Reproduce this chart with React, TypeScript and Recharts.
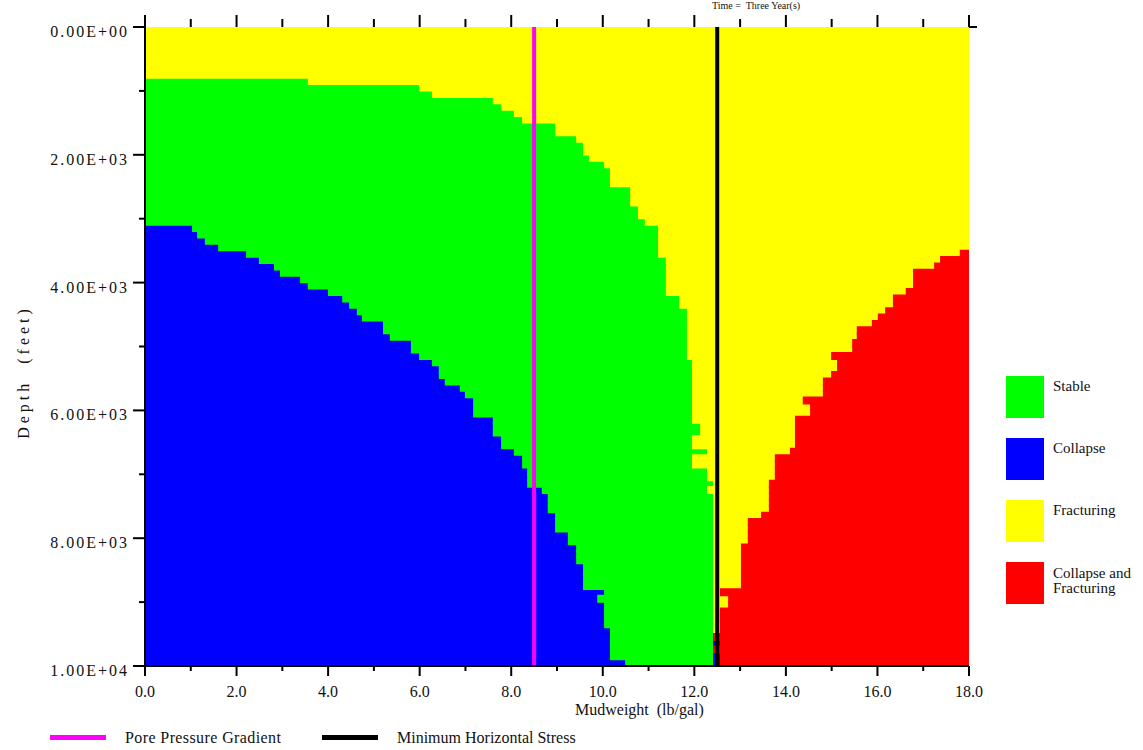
import { ComposedChart, Bar, XAxis, YAxis, ReferenceLine } from 'recharts'

// depth slices (ft), centre of each 100 ft row
const depths = [
  50, 150, 250, 350, 450, 550, 650, 750, 850, 950,
  1050, 1150, 1250, 1350, 1450, 1550, 1650, 1750, 1850, 1950,
  2050, 2150, 2250, 2350, 2450, 2550, 2650, 2750, 2850, 2950,
  3050, 3150, 3250, 3350, 3450, 3550, 3650, 3750, 3850, 3950,
  4050, 4150, 4250, 4350, 4450, 4550, 4650, 4750, 4850, 4950,
  5050, 5150, 5250, 5350, 5450, 5550, 5650, 5750, 5850, 5950,
  6050, 6150, 6250, 6350, 6450, 6550, 6650, 6750, 6850, 6950,
  7050, 7150, 7250, 7350, 7450, 7550, 7650, 7750, 7850, 7950,
  8050, 8150, 8250, 8350, 8450, 8550, 8650, 8750, 8850, 8950,
  9050, 9150, 9250, 9350, 9450, 9550, 9650, 9750, 9850, 9950,
]

// mudweight (lb/gal) below which the hole collapses
const collapseLimit = [
  0, 0, 0, 0, 0, 0, 0, 0, 0, 0,
  0, 0, 0, 0, 0, 0, 0, 0, 0, 0,
  0, 0, 0, 0, 0, 0, 0, 0, 0, 0,
  0, 1.05, 1.16, 1.33, 1.62, 2.23, 2.51, 2.84, 2.97, 3.41,
  3.58, 4.02, 4.33, 4.48, 4.65, 4.76, 5.22, 5.22, 5.37, 5.83,
  5.83, 6.01, 6.29, 6.44, 6.44, 6.57, 6.9, 7.01, 7.19, 7.19,
  7.19, 7.62, 7.62, 7.62, 7.8, 7.8, 8.08, 8.26, 8.26, 8.37,
  8.37, 8.37, 8.69, 8.82, 8.82, 8.82, 8.98, 8.98, 8.98, 9.26,
  9.26, 9.44, 9.44, 9.44, 9.59, 9.59, 9.59, 9.59, 10.05, 9.9,
  10.05, 10.05, 10.05, 10.05, 10.18, 10.18, 10.18, 10.18, 10.18, 10.51,
]

// mudweight where the stable window ends (0 = no stable window)
const stableLimit = [
  0, 0, 0, 0, 0, 0, 0, 0, 3.58, 6.01,
  6.29, 7.62, 7.8, 8.08, 8.26, 8.98, 8.98, 9.44, 9.59, 9.59,
  9.72, 10.05, 10.18, 10.18, 10.18, 10.62, 10.62, 10.62, 10.79, 10.79,
  10.94, 11.23, 11.23, 11.23, 11.23, 11.23, 11.4, 11.4, 11.4, 11.4,
  11.4, 11.4, 11.69, 11.69, 11.86, 11.86, 11.86, 11.86, 11.86, 11.86,
  11.86, 11.86, 11.97, 11.97, 11.97, 11.97, 11.97, 11.97, 11.97, 11.97,
  11.97, 11.97, 12.15, 12.15, 11.97, 11.97, 12.3, 11.97, 11.97, 12.3,
  12.3, 12.43, 12.3, 12.43, 12.43, 12.43, 12.43, 12.43, 12.43, 12.43,
  12.43, 12.43, 12.43, 12.43, 12.43, 12.43, 12.43, 12.43, 12.43, 12.43,
  12.43, 12.43, 12.43, 12.43, 12.43, 12.43, 12.43, 12.43, 12.43, 12.43,
]

// mudweight above which collapse and fracturing both occur (18 = none)
const fractureLimit = [
  18, 18, 18, 18, 18, 18, 18, 18, 18, 18,
  18, 18, 18, 18, 18, 18, 18, 18, 18, 18,
  18, 18, 18, 18, 18, 18, 18, 18, 18, 18,
  18, 18, 18, 18, 18, 17.82, 17.39, 17.26, 16.8, 16.8,
  16.8, 16.64, 16.36, 16.36, 16.19, 16.03, 15.9, 15.57, 15.57, 15.47,
  15.47, 15.01, 15.14, 15.14, 15.01, 14.83, 14.83, 14.83, 14.39, 14.55,
  14.55, 14.22, 14.22, 14.22, 14.22, 14.22, 14.11, 13.78, 13.78, 13.78,
  13.78, 13.65, 13.65, 13.65, 13.65, 13.65, 13.48, 13.19, 13.19, 13.19,
  13.19, 13.04, 13.04, 13.04, 13.04, 13.04, 13.04, 13.04, 12.58, 12.76,
  12.76, 12.58, 12.58, 12.58, 12.58, 12.43, 12.43, 12.43, 12.43, 12.43,
]

// small collapse pockets right at the minimum horizontal stress
const shminCollapseDepths = [9650, 9850, 9950]
const shminCollapseWidth = 0.15

const porePressureGradient = 8.5
const minHorizontalStress = 12.5

const xTicks = [0, 1, 2, 3, 4, 5, 6, 7, 8, 9, 10, 11, 12, 13, 14, 15, 16, 17, 18]
const yTicks = [0, 1000, 2000, 3000, 4000, 5000, 6000, 7000, 8000, 9000, 10000]
const yTickLabels: Record<number, string> = {
  0: '0.00E+00',
  2000: '2.00E+03',
  4000: '4.00E+03',
  6000: '6.00E+03',
  8000: '8.00E+03',
  10000: '1.00E+04',
}

const GREEN = '#00ff00'
const BLUE = '#0000ff'
const YELLOW = '#ffff00'
const RED = '#ff0000'
const MAGENTA = '#ff00ff'
const FONT = '"Liberation Serif", "Times New Roman", serif'

const rows = depths.map((depth, i) => {
  const c = collapseLimit[i]
  const s = Math.max(stableLimit[i], c)
  const f = fractureLimit[i]
  const pocket = shminCollapseDepths.includes(depth) ? shminCollapseWidth : 0
  return {
    depth,
    collapse: c,
    stable: s - c,
    fracturing: f - s,
    shminCollapse: pocket,
    both: 18 - f - pocket,
  }
})

// tickSize/tickMargin are 0 so x,y below sit on the axis line
const LeftTick = ({ x, y, payload }: any) => {
  const major = payload.value % 2000 === 0
  return (
    <g>
      <line x1={x - (major ? 12 : 6)} x2={x} y1={y} y2={y} stroke="#000" strokeWidth={2} />
      {major && (
        <text x={x - 16} y={y + 10} textAnchor="end" fontSize={16} letterSpacing={2}
          fontFamily={FONT} fill="#111">
          {yTickLabels[payload.value]}
        </text>
      )}
    </g>
  )
}

const RightTick = ({ x, y, payload }: any) => {
  const major = payload.value % 2000 === 0
  return <line x1={x} x2={x + (major ? 8 : 5)} y1={y} y2={y} stroke="#000" strokeWidth={2} />
}

const BottomTick = ({ x, y, payload }: any) => {
  const major = payload.value % 2 === 0
  return (
    <g>
      <line x1={x} x2={x} y1={y} y2={y + (major ? 10 : 5)} stroke="#000" strokeWidth={2} />
      {major && (
        <text x={x} y={y + 31} textAnchor="middle" fontSize={16} fontFamily={FONT} fill="#111">
          {payload.value.toFixed(1)}
        </text>
      )}
    </g>
  )
}

const TopTick = ({ x, y, payload }: any) => {
  const major = payload.value % 2 === 0
  return <line x1={x} x2={x} y1={y - (major ? 12 : 8)} y2={y} stroke="#000" strokeWidth={2} />
}

const legendItems = ['Stable', 'Collapse', 'Fracturing', 'Collapse and\nFracturing']
const legendColors = [GREEN, BLUE, YELLOW, RED]
const lineLegend = ['Pore Pressure Gradient', 'Minimum Horizontal Stress']

export default function App() {
  return (
    <div style={{ position: 'absolute', left: 0, top: 0, width: 1143, height: 750, overflow: 'hidden',
      background: '#fff', fontFamily: FONT, color: '#111' }}>
      <div style={{ position: 'absolute', left: 712, top: 0, fontSize: 10, lineHeight: '11px',
        whiteSpace: 'pre' }}>
        Time =  Three Year(s)
      </div>
      <ComposedChart
        width={1143}
        height={750}
        data={rows}
        layout="vertical"
        barCategoryGap={0}
        barGap={0}
        margin={{ top: 12, right: 164, bottom: 54, left: 0 }}
      >
        <XAxis xAxisId="bottom" type="number" domain={[0, 18]} ticks={xTicks} interval={0}
          height={30} tickSize={0} tickMargin={0} tickLine={false} tick={BottomTick}
          axisLine={{ stroke: '#000', strokeWidth: 2 }} allowDataOverflow />
        <XAxis xAxisId="top" orientation="top" type="number" domain={[0, 18]} ticks={xTicks}
          interval={0} height={15} tickSize={0} tickMargin={0} tickLine={false} tick={TopTick}
          axisLine={false} allowDataOverflow />
        <YAxis yAxisId="left" dataKey="depth" type="number" domain={[0, 10000]}
          ticks={yTicks} interval={0} width={145} tickSize={0} tickMargin={0} tickLine={false}
          tick={LeftTick} axisLine={{ stroke: '#000', strokeWidth: 2 }} allowDataOverflow />
        <YAxis yAxisId="right" orientation="right" type="number" domain={[0, 10000]}
          ticks={yTicks} interval={0} width={10} tickSize={0} tickMargin={0} tickLine={false}
          tick={RightTick} axisLine={false} allowDataOverflow />
        <Bar dataKey="collapse" stackId="mw" fill={BLUE} stroke={BLUE} strokeWidth={2}
          xAxisId="bottom" yAxisId="left" isAnimationActive={false} />
        <Bar dataKey="stable" stackId="mw" fill={GREEN} stroke={GREEN} strokeWidth={2}
          xAxisId="bottom" yAxisId="left" isAnimationActive={false} />
        <Bar dataKey="fracturing" stackId="mw" fill={YELLOW} stroke={YELLOW} strokeWidth={2}
          xAxisId="bottom" yAxisId="left" isAnimationActive={false} />
        <Bar dataKey="shminCollapse" stackId="mw" fill={BLUE} stroke={BLUE} strokeWidth={2}
          xAxisId="bottom" yAxisId="left" isAnimationActive={false} />
        <Bar dataKey="both" stackId="mw" fill={RED} stroke={RED} strokeWidth={2}
          xAxisId="bottom" yAxisId="left" isAnimationActive={false} />
        <ReferenceLine x={porePressureGradient} xAxisId="bottom" yAxisId="left" stroke={MAGENTA}
          strokeWidth={4} />
        <ReferenceLine x={minHorizontalStress} xAxisId="bottom" yAxisId="left" stroke="#000"
          strokeWidth={4} />
      </ComposedChart>

      <div style={{ position: 'absolute', left: 575, top: 701, fontSize: 16, whiteSpace: 'pre' }}>
        Mudweight  (lb/gal)
      </div>
      <div style={{ position: 'absolute', left: 24, top: 372, fontSize: 16, letterSpacing: 4,
        whiteSpace: 'pre', transform: 'translate(-50%, -50%) rotate(-90deg)' }}>
        Depth  (feet)
      </div>

      {legendItems.map((label, i) => (
        <div key={label}>
          <div style={{ position: 'absolute', left: 1006, top: 376 + i * 62, width: 38, height: 42,
            background: legendColors[i] }} />
          <div style={{ position: 'absolute', left: 1053, top: i === 3 ? 566 : 379 + i * 62,
            fontSize: 15, lineHeight: '15px', whiteSpace: 'pre' }}>
            {label}
          </div>
        </div>
      ))}

      {lineLegend.map((label, i) => (
        <div key={label}>
          <div style={{ position: 'absolute', left: 50 + i * 272, top: 735, width: 56, height: 5,
            background: i === 0 ? MAGENTA : '#000' }} />
          <div style={{ position: 'absolute', left: 125 + i * 272, top: 729, fontSize: 16,
            lineHeight: '18px', whiteSpace: 'pre', letterSpacing: i === 0 ? 0.4 : 0 }}>
            {label}
          </div>
        </div>
      ))}
    </div>
  )
}
